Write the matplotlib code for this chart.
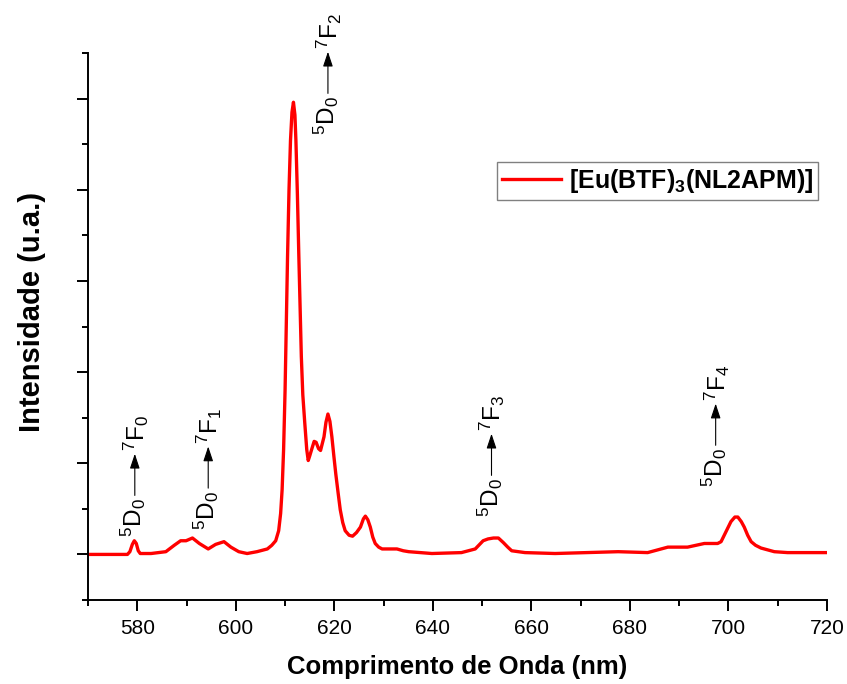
import numpy as np
import matplotlib
matplotlib.use('Agg')
import matplotlib.pyplot as plt
from matplotlib.transforms import offset_copy

plt.rcParams['font.family'] = ['Liberation Sans', 'DejaVu Sans']
plt.rcParams['mathtext.fontset'] = 'custom'
plt.rcParams['mathtext.rm'] = 'Liberation Sans'
plt.rcParams['mathtext.it'] = 'Liberation Sans:italic'
plt.rcParams['mathtext.bf'] = 'Liberation Sans:bold'

# Emission spectrum (wavelength in nm, normalised intensity)
wavelength = [570.0, 578.0, 578.5, 579.0, 579.4, 579.8, 580.2, 580.6, 582.8,
              585.8, 587.5, 588.8, 589.9, 591.2, 592.6, 594.4, 595.9, 597.6,
              599.0, 600.6, 602.3, 604.3, 606.4, 607.3, 608.1, 608.7, 609.1,
              609.4, 609.7, 610.0, 610.5, 610.8, 611.1, 611.4, 611.7, 612.0,
              612.2, 612.5, 612.8, 613.3, 613.6, 614.0, 614.4, 614.7, 615.0,
              615.5, 615.9, 616.3, 616.8, 617.2, 617.9, 618.3, 618.7, 619.1,
              619.5, 619.9, 620.3, 620.8, 621.2, 621.7, 622.2, 623.0, 623.7,
              624.5, 625.3, 625.9, 626.3, 626.8, 627.3, 627.8, 628.3, 629.0,
              629.7, 631.0, 632.7, 634.0, 635.1, 639.8, 645.8, 648.6, 650.2,
              651.2, 652.3, 653.3, 654.3, 655.2, 656.0, 658.7, 664.8, 671.2,
              677.6, 683.6, 687.7, 691.7, 695.1, 697.8, 698.5, 699.5, 700.5,
              701.3, 701.9, 702.6, 703.2, 703.9, 704.6, 705.5, 706.6, 709.3,
              712.0, 720.0]
intensity = [0.00, 0.00, 0.03, 0.11, 0.15, 0.12, 0.04, 0.01, 0.01,
             0.03, 0.10, 0.15, 0.15, 0.18, 0.12, 0.06, 0.11, 0.14,
             0.08, 0.03, 0.01, 0.03, 0.06, 0.10, 0.15, 0.26, 0.45,
             0.71, 1.15, 1.80, 3.26, 4.00, 4.54, 4.85, 4.96, 4.82,
             4.54, 3.95, 3.26, 2.17, 1.75, 1.44, 1.15, 1.03, 1.08,
             1.17, 1.24, 1.23, 1.16, 1.14, 1.29, 1.45, 1.54, 1.46,
             1.29, 1.08, 0.88, 0.66, 0.49, 0.35, 0.26, 0.21, 0.20,
             0.24, 0.30, 0.39, 0.42, 0.38, 0.30, 0.19, 0.12, 0.08,
             0.06, 0.06, 0.06, 0.04, 0.03, 0.01, 0.02, 0.06, 0.15,
             0.17, 0.18, 0.18, 0.13, 0.08, 0.04, 0.02, 0.01, 0.02,
             0.03, 0.02, 0.08, 0.08, 0.12, 0.12, 0.14, 0.25, 0.36,
             0.41, 0.41, 0.36, 0.30, 0.21, 0.14, 0.10, 0.07, 0.03,
             0.02, 0.02]

series_label = r'[Eu(BTF)$_\mathbf{3}$(NL2APM)]'

# Transitions 5D0 -> 7FJ and where each label sits
final_states = [r'$^7$F$_0$', r'$^7$F$_1$', r'$^7$F$_2$', r'$^7$F$_3$', r'$^7$F$_4$']
label_x = [579.5, 594.4, 618.7, 651.9, 697.4]
label_y = [0.19, 0.27, 4.60, 0.41, 0.74]

fig = plt.figure(figsize=(8.47, 6.84), dpi=100)
ax = fig.add_axes([0.1039, 0.1228, 0.8725, 0.7997])

ax.plot(wavelength, intensity, color='#ff0000', lw=2.4, label=series_label)

ax.set_xlim(570, 720)
ax.set_ylim(-0.5, 5.5)
ax.set_xticks(np.arange(580, 721, 20))
ax.set_xticks(np.arange(570, 721, 10), minor=True)
ax.set_yticks(np.arange(0, 5.1, 1))
ax.set_yticks(np.arange(-0.5, 5.6, 0.5), minor=True)
ax.set_yticklabels([])

for side in ['top', 'right']:
    ax.spines[side].set_visible(False)
for side in ['left', 'bottom']:
    ax.spines[side].set_linewidth(1.4)

ax.tick_params(which='major', direction='out', length=8, width=1.4,
               labelsize=15, pad=6)
ax.tick_params(which='minor', direction='out', length=4, width=1.4)

ax.set_xlabel('Comprimento de Onda (nm)', fontsize=18.5, fontweight='bold')
ax.set_ylabel('Intensidade (u.a.)', fontsize=21, fontweight='bold')
ax.xaxis.set_label_coords(0.5, -0.1)
ax.yaxis.set_label_coords(-0.057, 0.527)

leg = ax.legend(loc='upper right', bbox_to_anchor=(0.988, 0.801),
                borderaxespad=0, fancybox=False, framealpha=1,
                borderpad=0.2, handlelength=2.35, handletextpad=0.3,
                prop={'weight': 'bold', 'size': 18})
leg.get_frame().set_edgecolor('#808080')
leg.get_frame().set_linewidth(1.0)

# Vertical "5D0 -> 7FJ" labels with an upward arrow between the states
for state, x, y in zip(final_states, label_x, label_y):
    base = ax.transData
    ax.text(x, y, r'$^5$D$_0$', rotation=90, ha='center', va='bottom',
            fontsize=17.5, transform=offset_copy(base, fig=fig, x=-1, y=0, units='points'))
    ax.annotate('', xy=(x, y), xycoords=offset_copy(base, fig=fig, y=60, units='points'),
                xytext=(x, y), textcoords=offset_copy(base, fig=fig, y=30, units='points'),
                arrowprops=dict(arrowstyle='-|>,head_length=0.9,head_width=0.3',
                                color='black', lw=0.8, shrinkA=0, shrinkB=0,
                                mutation_scale=10))
    ax.text(x, y, state, rotation=90, ha='center', va='bottom', fontsize=17.5,
            transform=offset_copy(base, fig=fig, x=1, y=62, units='points'))

fig.savefig('out.png', dpi=100)
